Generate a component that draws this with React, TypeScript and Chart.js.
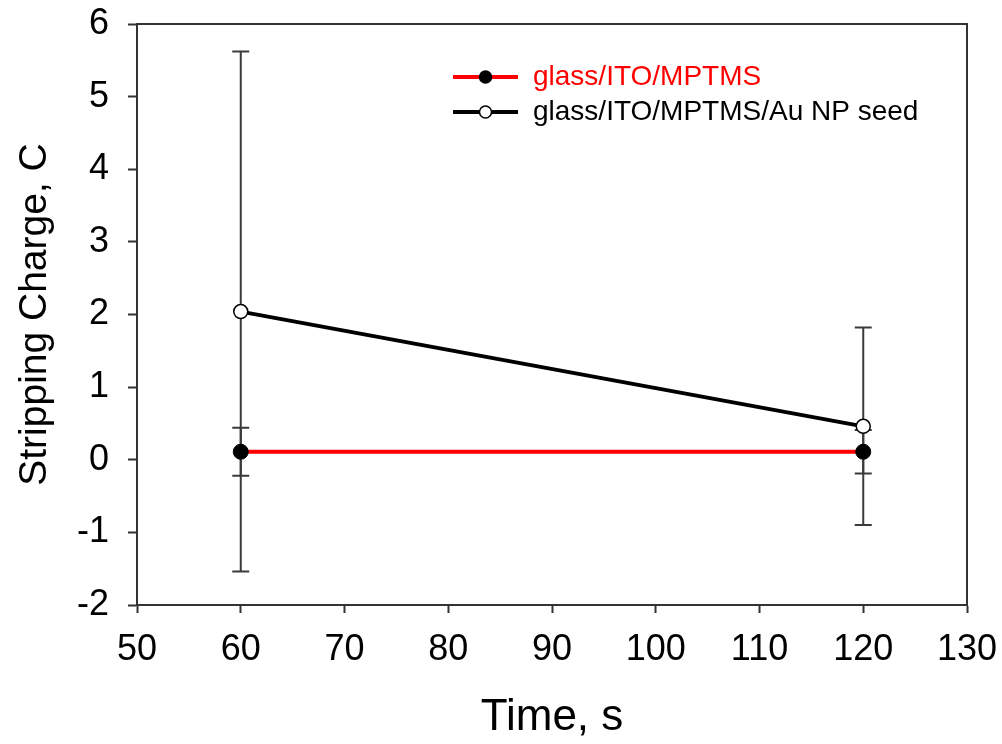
import React, { useEffect, useRef } from "react";
import { Chart, registerables } from "chart.js";

Chart.register(...registerables);

const timeValues = [60, 120];
const seriesNames = ["glass/ITO/MPTMS", "glass/ITO/MPTMS/Au NP seed"];
const mptmsCharge = [0.11, 0.11];
const mptmsError = [0.33, 0.3];
const seedCharge = [2.04, 0.46];
const seedError = [3.58, 1.36];
const xTicks = [50, 60, 70, 80, 90, 100, 110, 120, 130];
const yTicks = [-2, -1, 0, 1, 2, 3, 4, 5, 6];

const FONT = "'Liberation Sans', Arial, Helvetica, sans-serif";
const AXIS_COLOR = "#333333";

const errorBarPlugin = {
  id: "errorBars",
  beforeDatasetsDraw(chart: any) {
    const ctx = chart.ctx;
    const xs = chart.scales.x;
    const ys = chart.scales.y;
    const sets = [
      { vals: mptmsCharge, errs: mptmsError },
      { vals: seedCharge, errs: seedError },
    ];
    ctx.save();
    ctx.strokeStyle = "#3a3a3a";
    ctx.lineWidth = 2;
    sets.forEach((s) => {
      s.vals.forEach((v, i) => {
        const px = xs.getPixelForValue(timeValues[i]);
        const top = ys.getPixelForValue(v + s.errs[i]);
        const bot = ys.getPixelForValue(v - s.errs[i]);
        ctx.beginPath();
        ctx.moveTo(px, top);
        ctx.lineTo(px, bot);
        ctx.moveTo(px - 8.5, top);
        ctx.lineTo(px + 8.5, top);
        ctx.moveTo(px - 8.5, bot);
        ctx.lineTo(px + 8.5, bot);
        ctx.stroke();
      });
    });
    ctx.restore();
  },
};

const framePlugin = {
  id: "frame",
  afterDraw(chart: any) {
    const { ctx, chartArea } = chart;
    ctx.save();
    ctx.strokeStyle = AXIS_COLOR;
    ctx.lineWidth = 2;
    ctx.beginPath();
    ctx.moveTo(chartArea.left, chartArea.top);
    ctx.lineTo(chartArea.right, chartArea.top);
    ctx.lineTo(chartArea.right, chartArea.bottom);
    ctx.stroke();
    ctx.restore();
  },
};

const legendPlugin = {
  id: "customLegend",
  afterDraw(chart: any) {
    const ctx = chart.ctx;
    const lineX1 = 453;
    const lineX2 = 518;
    const textX = 533;
    const rows = [77, 112];
    const textColors = ["#ff0000", "#000000"];
    ctx.save();
    chart.data.datasets.forEach((ds: any, i: number) => {
      const y = rows[i];
      ctx.strokeStyle = ds.borderColor;
      ctx.lineWidth = 4;
      ctx.beginPath();
      ctx.moveTo(lineX1, y);
      ctx.lineTo(lineX2, y);
      ctx.stroke();
      ctx.beginPath();
      ctx.arc((lineX1 + lineX2) / 2, y, 6, 0, Math.PI * 2);
      ctx.fillStyle = ds.pointBackgroundColor;
      ctx.fill();
      ctx.lineWidth = 1.5;
      ctx.strokeStyle = "#000";
      ctx.stroke();
      ctx.fillStyle = textColors[i];
      ctx.font = `28px ${FONT}`;
      ctx.textBaseline = "middle";
      ctx.textAlign = "left";
      ctx.fillText(seriesNames[i], textX, y);
    });
    ctx.restore();
  },
};

export default function App() {
  const canvasRef = useRef<HTMLCanvasElement | null>(null);

  useEffect(() => {
    if (!canvasRef.current) return;
    const chart = new Chart(canvasRef.current, {
      type: "line",
      data: {
        datasets: [
          {
            label: seriesNames[0],
            data: timeValues.map((t, i) => ({ x: t, y: mptmsCharge[i] })),
            borderColor: "#ff0000",
            borderWidth: 4,
            pointBackgroundColor: "#000000",
            pointBorderColor: "#000000",
            pointBorderWidth: 1,
            pointRadius: 7.5,
            tension: 0,
          },
          {
            label: seriesNames[1],
            data: timeValues.map((t, i) => ({ x: t, y: seedCharge[i] })),
            borderColor: "#000000",
            borderWidth: 4,
            pointBackgroundColor: "#ffffff",
            pointBorderColor: "#000000",
            pointBorderWidth: 1.5,
            pointRadius: 7,
            tension: 0,
          },
        ],
      },
      options: {
        responsive: false,
        animation: false,
        devicePixelRatio: 1,
        layout: { padding: { top: 24, right: 35, left: 0, bottom: 0 } },
        plugins: {
          legend: { display: false },
          tooltip: { enabled: false },
        },
        scales: {
          x: {
            type: "linear",
            min: 50,
            max: 130,
            afterBuildTicks: (scale: any) => {
              scale.ticks = xTicks.map((v) => ({ value: v }));
            },
            afterFit: (scale: any) => {
              scale.height = 139;
              scale.paddingLeft = 0;
              scale.paddingRight = 0;
            },
            ticks: {
              font: { size: 36, family: FONT },
              color: "#000",
              padding: 15,
              maxRotation: 0,
            },
            grid: {
              drawOnChartArea: false,
              tickLength: 8,
              tickWidth: 2,
              color: AXIS_COLOR,
            },
            border: { display: true, color: AXIS_COLOR, width: 2 },
            title: {
              display: true,
              text: "Time, s",
              font: { size: 44, family: FONT },
              color: "#000",
              padding: { top: 0, bottom: 0 },
            },
          },
          y: {
            type: "linear",
            min: -2,
            max: 6,
            afterBuildTicks: (scale: any) => {
              scale.ticks = yTicks.map((v) => ({ value: v }));
            },
            afterFit: (scale: any) => {
              scale.width = 137;
              scale.paddingTop = 0;
              scale.paddingBottom = 0;
            },
            ticks: {
              font: { size: 36, family: FONT },
              color: "#000",
              padding: 19,
            },
            grid: {
              drawOnChartArea: false,
              tickLength: 9,
              tickWidth: 2,
              color: AXIS_COLOR,
            },
            border: { display: true, color: AXIS_COLOR, width: 2 },
            title: {
              display: true,
              text: "Stripping Charge, C",
              font: { size: 39, family: FONT },
              color: "#000",
              padding: { top: 12, bottom: 0 },
            },
          },
        },
      },
      plugins: [errorBarPlugin, framePlugin, legendPlugin],
    });
    return () => chart.destroy();
  }, []);

  return (
    <div style={{ position: "absolute", left: 0, top: 0, width: 1002, height: 744, background: "#fff" }}>
      <canvas ref={canvasRef} width={1002} height={744} />
    </div>
  );
}
